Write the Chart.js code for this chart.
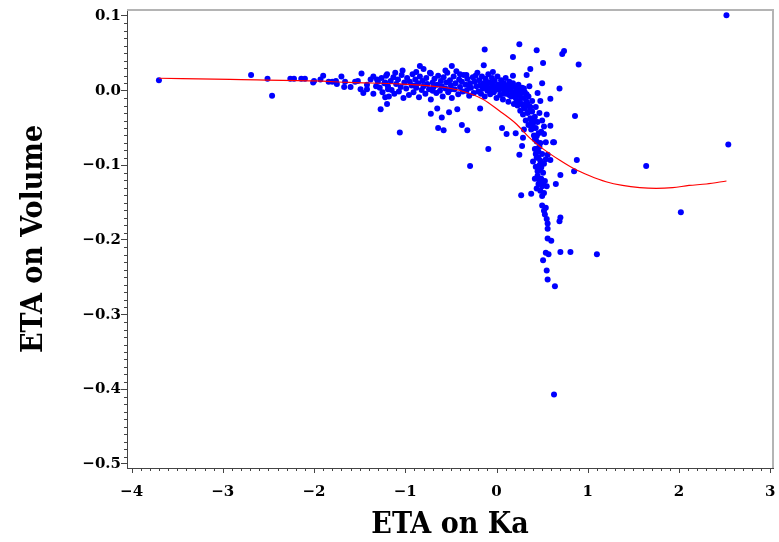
<!DOCTYPE html>
<html>
<head>
<meta charset="utf-8">
<title>ETA on Volume vs ETA on Ka</title>
<script src="https://cdn.jsdelivr.net/npm/chart.js@4.4.0/dist/chart.umd.min.js"></script>
<style>
  html, body { margin: 0; padding: 0; background: #fff; }
  #wrap { width: 779px; height: 542px; }
</style>
</head>
<body>
<div id="wrap"><canvas id="etaChart" width="779" height="542"></canvas></div>
<script>
// tick labels
const xTickValues = [-4, -3, -2, -1, 0, 1, 2, 3];
const yTickValues = [-0.5, -0.4, -0.3, -0.2, -0.1, 0.0, 0.1];

// individual ETA estimates (x = ETA on Ka, y = ETA on Volume)
const etaKa = [
  // sparse left tail
  -3.70, -2.69, -2.51, -2.46, -2.26, -2.22, -2.14, -2.10, -2.01, -2.00,
  -1.93, -1.90, -1.84, -1.80, -1.76, -1.75, -1.70, -1.66, -1.67, -1.60,
  -1.55, -1.52, -1.48, -1.49, -1.46, -1.42, -1.42, -1.38, -1.35, -1.35,
  -1.32, -1.31, -1.27, -1.22, -1.20, -1.22, -1.20, -1.19,
  // main band
  -1.30, -1.28, -1.26, -1.25, -1.23, -1.21, -1.19, -1.18, -1.16, -1.15,
  -1.13, -1.12, -1.10, -1.08, -1.07, -1.05, -1.04, -1.02, -1.01,
  -0.99, -0.98, -0.96, -0.95, -0.93, -0.92, -0.91, -0.89, -0.88, -0.86,
  -0.85, -0.84, -0.82, -0.81, -0.80, -0.78, -0.77, -0.76, -0.74, -0.73,
  -0.72, -0.70, -0.69, -0.68, -0.66, -0.65, -0.64, -0.62, -0.61,
  -0.60, -0.59, -0.58, -0.56, -0.55, -0.54, -0.53, -0.51, -0.50, -0.49,
  -0.47, -0.46, -0.45, -0.44, -0.42, -0.41, -0.40, -0.38, -0.37, -0.36,
  -0.34, -0.33, -0.32, -0.30, -0.29, -0.28, -0.26, -0.25, -0.24, -0.22,
  -0.21, -0.20,
  -0.19, -0.18, -0.17, -0.16, -0.15, -0.14, -0.13, -0.12, -0.11, -0.10,
  -0.09, -0.08, -0.07, -0.06, -0.05, -0.04, -0.03, -0.02, -0.01, 0.00,
  0.01, 0.02, 0.03, 0.04, 0.05, 0.06, 0.07, 0.08, 0.09, 0.10,
  0.11, 0.12, 0.13, 0.14, 0.15, 0.16, 0.17, 0.18, 0.19, 0.20,
  // bend
  0.21, 0.22, 0.23, 0.24, 0.25, 0.26, 0.27, 0.28, 0.29, 0.30,
  0.31, 0.32, 0.33, 0.34, 0.35, 0.36, 0.37, 0.38, 0.39, 0.40,
  0.41, 0.42, 0.43, 0.44, 0.45, 0.46, 0.47,
  0.24, 0.28, 0.31, 0.35, 0.39, 0.43, 0.47, 0.50, 0.49, 0.52,
  // column
  0.42, 0.46, 0.50, 0.44, 0.48, 0.52, 0.43, 0.47, 0.51, 0.45,
  0.49, 0.53, 0.46, 0.50, 0.44, 0.48, 0.52, 0.50, 0.54, 0.40,
  0.42, 0.55,
  // lower column
  0.50, 0.54, 0.52, 0.53, 0.55, 0.56, 0.56, 0.70, 0.69, 0.56,
  0.60, 0.54, 0.57, 0.70, 0.81, 0.51, 0.55, 0.56, 0.64, 0.63,
  // beside column
  0.59, 0.88, 0.85, 0.70, 0.65, 0.27, 0.38, 0.28, 0.25, 0.63,
  0.54, 0.56,
  // scattered above / right of the bend
  -0.13, -0.14, 0.25, 0.44, 0.74, 0.72, 0.18, 0.51, 0.90, 0.37,
  -0.04, 0.18, 0.33, 0.50, 0.69, 0.36, 0.45, 0.59, 0.48, 0.86,
  0.55, 0.59, 0.52, 0.62, 0.06, 0.11, 0.21, 0.30, 0.44, 0.29,
  // below the band
  -1.06, -0.29, -0.09, -0.72, -0.65, -0.60, -0.52, -0.43, -0.38, -0.32,
  -0.64, -0.58, -0.18,
  // above the band
  -1.03, -0.84, -0.80, -0.72, -0.49, -0.56, -0.88, -1.11, -0.40, -0.33,
  -0.23,
  // dense core
  -0.15, -0.11, -0.06, -0.02, 0.02, 0.05, 0.08, 0.10, 0.12, 0.14,
  0.16, 0.18, 0.20, 0.22, 0.25, 0.27, 0.29, 0.30, 0.33, 0.36,
  0.38, 0.40, 0.42, 0.44, 0.46, 0.47, 0.45, 0.47, 0.49, 0.51,
  0.43, 0.48, 0.41, 0.37, 0.34, -0.08, -0.30, -0.50, -0.70, -0.90,
  // far outliers
  1.64, 2.02, 2.52, 2.54, 1.10
];

const etaVolume = [
  // sparse left tail
  0.014, 0.021, 0.016, -0.007, 0.016, 0.016, 0.016, 0.016, 0.011, 0.013,
  0.015, 0.020, 0.012, 0.012, 0.013, 0.009, 0.019, 0.012, 0.005, 0.005,
  0.012, 0.013, 0.023, 0.002, -0.003, 0.002, 0.008, 0.015, 0.019, -0.004,
  0.006, 0.015, -0.025, -0.009, -0.018, 0.011, 0.022, 0.002,
  // main band
  0.012, 0.004, 0.017, -0.002, 0.010, 0.020, 0.006, -0.008, 0.013, 0.001,
  0.018, -0.004, 0.009, 0.015, -0.001, 0.005, 0.021, -0.010, 0.011,
  0.003, 0.017, -0.006, 0.012, 0.007, 0.022, -0.002, 0.015, 0.004, 0.010,
  -0.009, 0.019, 0.001, 0.013, 0.006, -0.004, 0.017, 0.009, 0.002, 0.024,
  -0.012, 0.011, 0.005, 0.016, -0.003, 0.008, 0.020, 0.000, 0.013,
  0.006, -0.008, 0.018, 0.003, 0.011, 0.024, -0.002, 0.014, 0.007, -0.010,
  0.019, 0.002, 0.010, 0.026, -0.005, 0.015, 0.005, 0.012, -0.001, 0.021,
  0.008, 0.000, 0.016, -0.007, 0.010, 0.004, 0.018, -0.003, 0.012, 0.006,
  0.024, -0.001,
  0.014, 0.007, -0.004, 0.019, 0.003, 0.010, -0.008, 0.016, 0.006, 0.000,
  0.022, 0.011, -0.005, 0.004, 0.017, 0.009, -0.002, 0.013, 0.005, -0.010,
  0.019, 0.008, 0.001, -0.006, 0.014, 0.004, -0.012, 0.010, 0.000, 0.017,
  -0.004, 0.007, -0.015, 0.012, 0.002, -0.008, 0.009, -0.002, -0.018, 0.005,
  // bend
  -0.010, 0.000, -0.020, -0.006, -0.014, -0.027, -0.003, -0.018, -0.032, -0.010,
  -0.024, -0.040, -0.015, -0.030, -0.046, -0.021, -0.037, -0.052, -0.028, -0.044,
  -0.060, -0.035, -0.050, -0.068, -0.042, -0.057, -0.075,
  0.008, 0.004, -0.002, -0.008, -0.014, -0.022, -0.030, -0.040, -0.055, -0.048,
  // column
  -0.078, -0.082, -0.085, -0.090, -0.094, -0.098, -0.102, -0.106, -0.110, -0.114,
  -0.118, -0.121, -0.125, -0.128, -0.131, -0.134, -0.137, -0.141, -0.092, -0.095,
  -0.118, -0.128,
  // lower column
  -0.154, -0.157, -0.161, -0.166, -0.172, -0.178, -0.185, -0.170, -0.175, -0.198,
  -0.201, -0.217, -0.219, -0.216, -0.216, -0.227, -0.241, -0.253, -0.262, -0.407,
  // beside column
  -0.093, -0.093, -0.108, -0.113, -0.125, -0.140, -0.138, -0.074, -0.086, -0.069,
  -0.069, -0.086,
  // scattered above / right of the bend
  0.055, 0.034, 0.062, 0.054, 0.053, 0.049, 0.045, 0.037, 0.035, 0.029,
  0.025, 0.020, 0.021, 0.010, 0.003, 0.006, -0.003, -0.011, -0.014, -0.034,
  -0.032, -0.047, -0.058, -0.069, -0.050, -0.058, -0.057, -0.052, -0.061, -0.063,
  // below the band
  -0.056, -0.101, -0.078, -0.031, -0.024, -0.036, -0.029, -0.025, -0.046, -0.053,
  -0.050, -0.053, -0.024,
  // above the band
  0.027, 0.033, 0.029, 0.023, 0.033, 0.027, 0.025, 0.024, 0.022, 0.021,
  0.020,
  // dense core
  0.008, 0.012, 0.010, 0.001, 0.003, 0.009, -0.004, 0.006, 0.001, -0.006,
  0.004, 0.010, -0.006, -0.014, 0.002, -0.010, -0.020, 0.003, -0.005, -0.028,
  -0.040, -0.050, -0.065, -0.078, -0.090, -0.100, -0.108, -0.120, -0.103, -0.125,
  -0.085, -0.070, -0.040, -0.022, -0.018, 0.002, 0.004, 0.002, 0.000, 0.007,
  // far outliers
  -0.101, -0.163, 0.101, -0.072, -0.219
];

// smooth fitted curve (red)
const fitKa = [-3.70, -2.92, -2.00, -1.61, -1.06, -0.70, -0.41, -0.15, 0.03, 0.22,
  0.36, 0.51, 0.69, 0.84, 1.02, 1.20, 1.38, 1.57, 1.75, 1.93, 2.11, 2.30, 2.52];
const fitVolume = [0.0166, 0.0150, 0.0130, 0.0110, 0.0090, 0.0060, 0.0005, -0.0115, -0.0270, -0.0450,
  -0.0630, -0.0780, -0.0930, -0.1040, -0.1140, -0.1220, -0.1270, -0.1300, -0.1310, -0.1300, -0.1270, -0.1250, -0.1210];

const pointsData = etaKa.map((x, i) => ({ x: x, y: etaVolume[i] }));
const fitData = fitKa.map((x, i) => ({ x: x, y: fitVolume[i] }));

const serifFamily = '"DejaVu Serif", "Liberation Serif", serif';
const condensedFamily = '"DejaVu Serif Condensed", "DejaVu Serif", serif';
const axisColor = '#444';

const minusFmt = (v, digits) => {
  const s = digits === undefined ? String(Math.abs(v)) : Math.abs(v).toFixed(digits);
  return (v < -1e-9 ? '\u2212' : '') + s;
};

// tick marks (major + minor) and the light frame on top / right
const frameAndTicks = {
  id: 'frameAndTicks',
  beforeDatasetsDraw(chart) {
    const { ctx, chartArea } = chart;
    ctx.save();
    ctx.strokeStyle = '#b4b4b4';
    ctx.lineWidth = 2;
    ctx.beginPath();
    ctx.moveTo(chartArea.left, chartArea.top);
    ctx.lineTo(chartArea.right, chartArea.top);
    ctx.lineTo(chartArea.right, chartArea.bottom);
    ctx.stroke();
    ctx.restore();
  },
  afterDraw(chart) {
    const { ctx, chartArea, scales } = chart;
    ctx.save();
    ctx.strokeStyle = axisColor;
    ctx.lineWidth = 1;
    ctx.beginPath();
    for (let i = -40; i <= 30; i++) {
      const len = i % 10 === 0 ? 5 : 3;
      const px = Math.round(scales.x.getPixelForValue(i / 10)) + 0.5;
      ctx.moveTo(px, chartArea.bottom);
      ctx.lineTo(px, chartArea.bottom + len);
    }
    for (let j = -50; j <= 10; j++) {
      if (j % 10 === 0) continue;
      const py = Math.round(scales.y.getPixelForValue(j / 100)) + 0.5;
      ctx.moveTo(chartArea.left, py);
      ctx.lineTo(chartArea.left - 3, py);
    }
    ctx.stroke();
    ctx.restore();
  }
};

new Chart(document.getElementById('etaChart').getContext('2d'), {
  type: 'scatter',
  data: {
    datasets: [
      {
        label: 'Fit',
        data: fitData,
        showLine: true,
        borderColor: '#ff0000',
        borderWidth: 1.2,
        pointRadius: 0,
        fill: false,
        cubicInterpolationMode: 'monotone',
        order: 0
      },
      {
        label: 'ETA',
        data: pointsData,
        backgroundColor: '#0000ff',
        borderWidth: 0,
        pointRadius: 3,
        pointHoverRadius: 3,
        order: 1
      }
    ]
  },
  options: {
    responsive: false,
    animation: false,
    events: [],
    layout: { padding: { top: 10, right: 6, left: 0, bottom: 0 } },
    plugins: {
      legend: { display: false },
      tooltip: { enabled: false }
    },
    scales: {
      x: {
        type: 'linear',
        min: -4.05,
        max: 3.03,
        afterBuildTicks: scale => { scale.ticks = xTickValues.map(v => ({ value: v })); },
        afterFit: scale => { scale.height = 74; },
        border: { color: axisColor, width: 1 },
        grid: { drawOnChartArea: false, drawTicks: true, tickLength: 13, tickColor: 'rgba(0,0,0,0)' },
        ticks: {
          padding: 2,
          color: '#000',
          maxRotation: 0,
          font: { family: serifFamily, size: 15, weight: 'bold' },
          callback: v => minusFmt(v)
        },
        title: {
          display: true,
          text: 'ETA on Ka',
          color: '#000',
          font: { family: condensedFamily, size: 30, weight: 'bold', lineHeight: 1.1 },
          padding: { top: 0, bottom: 0 }
        }
      },
      y: {
        type: 'linear',
        min: -0.5054,
        max: 0.108,
        afterBuildTicks: scale => { scale.ticks = yTickValues.map(v => ({ value: v })); },
        afterFit: scale => { scale.width = 127; },
        border: { color: axisColor, width: 1 },
        grid: { drawOnChartArea: false, drawTicks: true, tickLength: 6, tickColor: axisColor },
        ticks: {
          padding: 0,
          color: '#000',
          font: { family: serifFamily, size: 15, weight: 'bold' },
          callback: v => minusFmt(v, 1)
        },
        title: {
          display: true,
          text: 'ETA on Volume',
          color: '#000',
          font: { family: condensedFamily, size: 30, weight: 'bold', lineHeight: 1.1 },
          padding: { top: 18, bottom: 0 }
        }
      }
    }
  },
  plugins: [frameAndTicks]
});
</script>
</body>
</html>
